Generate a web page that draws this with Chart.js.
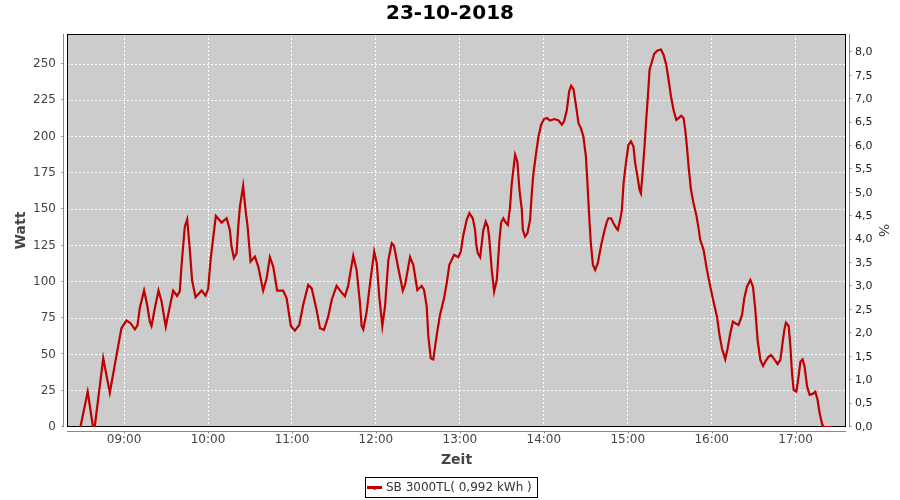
<!DOCTYPE html>
<html>
<head>
<meta charset="utf-8">
<script src="https://cdn.jsdelivr.net/npm/chart.js@4"></script>
<style>
  html, body { margin: 0; padding: 0; background: #ffffff; }
  #wrap { width: 900px; height: 500px; position: relative; }
</style>
</head>
<body>
<div id="wrap"><canvas id="pv-graph"></canvas></div>
<script>
// Readings of one day, time in minutes since midnight
const times = [
  508.8, 514, 517.8, 519, 525.1, 529.8, 535.7, 538.1, 541.7, 544.6, 547.7, 549.6, 551.2, 554.3, 556.5, 558.4,
  559.6, 562, 564.6, 566.8, 569.8, 572.7, 575.1, 577.9, 579.8, 581.1, 583.4, 585.1, 587, 588.6, 591.1, 595.4,
  598.2, 600.1, 601.8, 604.9, 605.6, 609.7, 613.3, 615.6, 616.8, 618.5, 620.4, 621.6, 622.8, 625.1, 626.8, 628.3,
  630.4, 633.5, 635.9, 639.4, 641.9, 644.2, 646.6, 649.4, 653.7, 656.2, 659.2, 662.1, 665.2, 668, 671.6, 674.1,
  677.6, 680, 682.9, 685.9, 688.4, 691.9, 695.5, 697.9, 700.2, 703.8, 706.2, 708.6, 709.8, 711, 713.4, 715.8,
  718.8, 720.6, 722.4, 724.6, 726.5, 728.9, 731.3, 732.9, 736, 739.2, 740.8, 744.4, 746.7, 749.6, 752.7, 754.4,
  756.3, 757.5, 759.2, 761, 763.5, 765.8, 768.7, 770.6, 772.5, 775.9, 778.9, 780.6, 782.5, 784.9, 786.8, 789.2,
  790.9, 791.6, 792.8, 794.5, 796.8, 798.5, 800, 800.9, 802.8, 804.5, 806.4, 808.3, 809.5, 811.1, 812.8, 814.3,
  815.9, 817.1, 818.8, 819.5, 821.1, 822.6, 824.3, 825, 826.6, 828.3, 830.2, 831.4, 832.6, 834.5, 836.2, 838.1,
  840.2, 842.2, 844.5, 847.6, 850.5, 852.9, 854.5, 856.5, 858.1, 859.5, 861.2, 863.1, 864.8, 866.5, 868.3, 870.1,
  871.2, 872.6, 873.6, 875.1, 876.7, 878.6, 880.8, 883.2, 885.1, 886.2, 888, 889.8, 891.8, 892.9, 894.6, 895.8,
  897, 898.7, 900.5, 902.3, 904.1, 905.3, 907, 908.4, 909.4, 910.6, 912, 913.2, 914.4, 915.6, 917.3, 918.9,
  921.3, 923.7, 925.6, 927.5, 929.2, 930.9, 932.7, 934.7, 936.3, 938.2, 939.9, 941.1, 942.3, 943.5, 945.2, 947,
  949, 950.6, 951.8, 954.2, 956.6, 959, 961.3, 963.8, 965.4, 967.3, 969.7, 971.4, 973.3, 975.2, 976.9, 979.2,
  981.7, 983.3, 985.2, 987.6, 989.5, 991.2, 992.8, 994.8, 996.7, 998.3, 1000.7, 1002.4, 1004.3, 1007.1, 1009.1, 1010.3,
  1011.9, 1013.1, 1015, 1016.2, 1017.4, 1018.6, 1020.5, 1022.1, 1023.4, 1025, 1026.4, 1028.2, 1030, 1032.2, 1034.1, 1035.7,
  1037.2, 1038.9, 1040, 1045.5
];

const watt = [
  0, 24.3, 0, 0, 47.3, 23.6, 55.4, 68, 73.3, 71.5, 67.3, 70, 81.8, 94, 84, 72.6,
  69.6, 81.8, 94, 86.4, 69.1, 83, 94, 90.3, 93.4, 111.7, 138, 143, 122, 101, 89.4, 94,
  90.5, 95, 115, 140, 145.4, 140.8, 143.8, 135.8, 124.3, 116.3, 119.7, 138, 151.8, 166, 149.6, 138,
  114, 117.4, 110.5, 94, 102.5, 117, 110.5, 94, 94, 88.7, 69.6, 66.4, 70.3, 84, 97.9, 95.5,
  80.6, 68, 66.9, 76, 87.5, 97.2, 92.6, 90, 97.5, 118, 108.2, 85.3, 69.6, 67.3, 79.5, 99,
  120.8, 112.8, 89.8, 69.6, 83, 115, 126.6, 125, 109.4, 94, 97.9, 117, 111.7, 94.4, 97.2, 94.4,
  83, 62.2, 47.3, 46.6, 63.4, 77.2, 88.7, 99, 111.7, 118.6, 117, 120.8, 132.3, 142.7, 147.3, 143.8,
  135.8, 126.6, 119.7, 117, 135.8, 141.5, 137.9, 131.2, 108.2, 93.3, 101.3, 128.9, 140.8, 143.8, 140.8, 139.2,
  151.8, 167.9, 181.7, 187.5, 182.8, 163.4, 149.6, 135.8, 131.2, 133.5, 142.7, 161, 174.9, 188.7, 200.1, 208.2,
  212.1, 212.8, 211.1, 212.1, 211.1, 208.2, 210.5, 218.5, 231.1, 235, 232.8, 220.8, 209.3, 205.9, 200.1, 186.3,
  167.9, 142.7, 126.6, 111.7, 108.2, 112.8, 124.3, 134.6, 141.5, 143.8, 143.8, 140.4, 137, 135.8, 142.7, 149.6,
  167.9, 181.7, 194.4, 196.7, 193.2, 181.7, 172.5, 163.4, 161, 174.9, 193.2, 211.6, 227.7, 246.1, 251.8, 257.1,
  259.4, 260, 256.4, 249.5, 239.2, 227.7, 218.5, 211.6, 212.8, 214.4, 212.8, 204.7, 193.2, 179.4, 163.4, 154.2,
  146.1, 137, 128.9, 122, 108.2, 96.7, 86.4, 76, 64.6, 54.2, 46.6, 54.2, 64.6, 72.6, 71.5, 70.3,
  77.2, 88.7, 96.7, 101.3, 96.7, 80.6, 60, 46.2, 42, 45, 48.5, 49.6, 47.3, 43.4, 46.2, 55.4,
  66.9, 71.9, 69.6, 56.5, 37, 25.5, 24.4, 34.7, 45, 46.6, 41.6, 27.8, 22.1, 22.8, 24.3, 18.6,
  9.4, 2, 0, 0
];

const seriesLabel = 'SB 3000TL( 0,992 kWh )';
const chartTitle = '23-10-2018';

// Tick positions
const hourTicks = [540, 600, 660, 720, 780, 840, 900, 960, 1020];
const wattTicks = [0, 25, 50, 75, 100, 125, 150, 175, 200, 225, 250];
const percentTicks = [0, 0.5, 1, 1.5, 2, 2.5, 3, 3.5, 4, 4.5, 5, 5.5, 6, 6.5, 7, 7.5, 8];

const LINE_RED = '#bf0000';
const AXIS_GRAY = '#888888';

Chart.defaults.font.family = "'DejaVu Sans', sans-serif";

function setTicks(list) {
  return function (scale) {
    scale.ticks = list.map(v => ({ value: v }));
  };
}

function pad2(n) {
  return (n < 10 ? '0' : '') + n;
}

// Gray plot background, black frame, offset axis lines and tick marks
const plotFrame = {
  id: 'plotFrame',
  beforeDraw(chart) {
    const { ctx, chartArea: a } = chart;
    ctx.save();
    ctx.fillStyle = '#cccccc';
    ctx.fillRect(a.left, a.top, a.right - a.left, a.bottom - a.top);
    ctx.restore();
  },
  beforeDatasetsDraw(chart) {
    const { ctx, chartArea: a, scales } = chart;
    ctx.save();
    ctx.strokeStyle = '#000000';
    ctx.lineWidth = 1;
    ctx.strokeRect(a.left + 0.5, a.top + 0.5, a.right - a.left - 1, a.bottom - a.top - 1);

    ctx.strokeStyle = AXIS_GRAY;
    ctx.beginPath();
    // left axis
    const lx = a.left - 3.5;
    ctx.moveTo(lx, a.top);
    ctx.lineTo(lx, a.bottom);
    scales.y.ticks.forEach(t => {
      const py = Math.round(scales.y.getPixelForValue(t.value)) - 0.5;
      ctx.moveTo(lx, py);
      ctx.lineTo(lx - 2, py);
    });
    // right axis
    const rx = a.right + 3.5;
    ctx.moveTo(rx, a.top);
    ctx.lineTo(rx, a.bottom);
    scales.y2.ticks.forEach(t => {
      const py = Math.round(scales.y2.getPixelForValue(t.value)) - 0.5;
      ctx.moveTo(rx, py);
      ctx.lineTo(rx + 2, py);
    });
    // bottom axis
    const by = a.bottom + 4.5;
    ctx.moveTo(a.left, by);
    ctx.lineTo(a.right, by);
    scales.x.ticks.forEach(t => {
      const px = Math.round(scales.x.getPixelForValue(t.value)) + 0.5;
      ctx.moveTo(px, by);
      ctx.lineTo(px, by + 2);
    });
    ctx.stroke();
    ctx.restore();
  },
  afterDraw(chart) {
    // framed legend under the chart
    const { ctx } = chart;
    const ds = chart.data.datasets[0];
    ctx.save();
    ctx.font = "12px 'DejaVu Sans'";
    const textW = ctx.measureText(ds.label).width;
    const markW = 15;
    const boxW = 2 + markW + 4 + textW + 5;
    const boxL = Math.round(451 - boxW / 2) + 0.5;
    const boxT = 477.5;
    const midY = 488;
    ctx.strokeStyle = '#000000';
    ctx.lineWidth = 1;
    ctx.strokeRect(boxL, boxT, Math.round(boxW), 20);
    ctx.fillStyle = ds.borderColor;
    ctx.fillRect(boxL + 1.5, midY - 2, markW, 3);
    ctx.fillRect(boxL + 1.5 + markW / 2 - 1, midY, 2, 2);
    ctx.fillStyle = '#333333';
    ctx.textBaseline = 'middle';
    ctx.textAlign = 'left';
    ctx.fillText(ds.label, boxL + 1.5 + markW + 4, midY);
    ctx.restore();
  }
};

const points = times.map((t, i) => ({ x: t, y: watt[i] }));

new Chart(document.getElementById('pv-graph'), {
  type: 'line',
  data: {
    datasets: [
      {
        label: seriesLabel,
        data: points,
        borderColor: LINE_RED,
        backgroundColor: LINE_RED,
        borderWidth: 2.2,
        pointRadius: 0,
        tension: 0,
        fill: false,
        yAxisID: 'y'
      }
    ]
  },
  options: {
    responsive: true,
    maintainAspectRatio: false,
    animation: false,
    layout: { padding: 0 },
    scales: {
      x: {
        type: 'linear',
        position: 'bottom',
        min: 499.2,
        max: 1056,
        afterBuildTicks: setTicks(hourTicks),
        afterFit: s => { s.height = 73; },
        ticks: {
          color: '#444444',
          font: { size: 12 },
          padding: 6,
          maxRotation: 0,
          autoSkip: false,
          callback: v => pad2(Math.floor(v / 60)) + ':' + pad2(v % 60)
        },
        grid: { color: '#ffffff', lineWidth: 1, drawTicks: false },
        border: { display: false, dash: [2, 2] },
        title: {
          display: true,
          text: 'Zeit',
          color: '#444444',
          font: { size: 14, weight: 'bold' },
          padding: { top: 0, bottom: 31 }
        }
      },
      y: {
        type: 'linear',
        position: 'left',
        min: 0,
        max: 270.7,
        afterBuildTicks: setTicks(wattTicks),
        afterFit: s => { s.width = 67; },
        ticks: {
          color: '#444444',
          font: { size: 12 },
          padding: 11
        },
        grid: { color: '#ffffff', lineWidth: 1, drawTicks: false },
        border: { display: false, dash: [2, 2] },
        title: {
          display: true,
          text: 'Watt',
          color: '#444444',
          font: { size: 14, weight: 'bold' },
          padding: { top: 13, bottom: 0 }
        }
      },
      y2: {
        type: 'linear',
        position: 'right',
        min: 0,
        max: 8.39,
        afterBuildTicks: setTicks(percentTicks),
        afterFit: s => { s.width = 54; },
        ticks: {
          color: '#222222',
          font: { size: 11 },
          padding: 9,
          callback: v => v.toFixed(1).replace('.', ',')
        },
        grid: { display: false, drawTicks: false },
        border: { display: false },
        title: {
          display: true,
          text: '%',
          color: '#444444',
          font: { size: 14 },
          padding: { top: 9, bottom: 0 }
        }
      }
    },
    plugins: {
      legend: { display: false },
      tooltip: { enabled: false },
      title: {
        display: true,
        text: chartTitle,
        color: '#000000',
        font: { size: 20, weight: 'bold' },
        padding: { top: 2, bottom: 8 }
      }
    }
  },
  plugins: [plotFrame]
});
</script>
</body>
</html>
